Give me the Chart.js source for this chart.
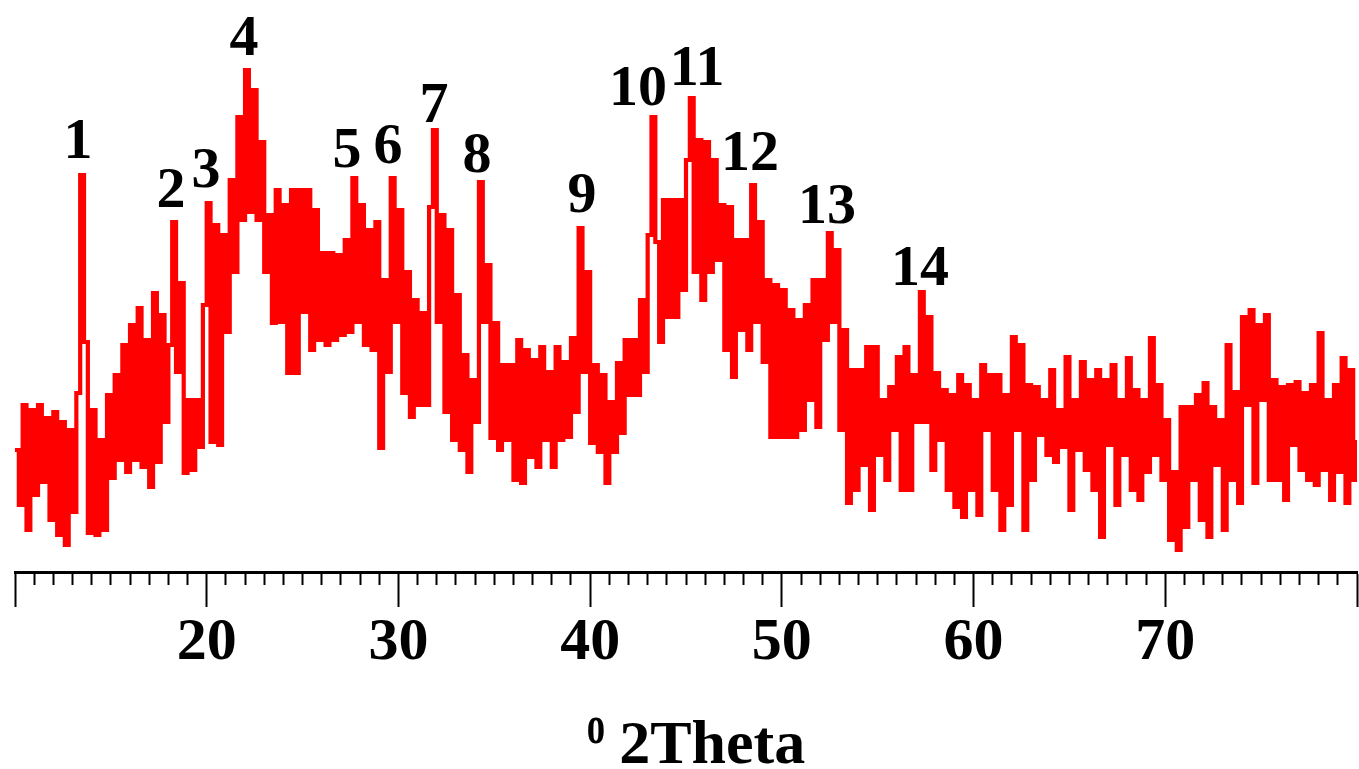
<!DOCTYPE html>
<html>
<head>
<meta charset="utf-8">
<script src="https://cdn.jsdelivr.net/npm/chart.js@4.4.1/dist/chart.umd.min.js"></script>
<style>
  html, body { margin: 0; padding: 0; background: #ffffff; }
  #wrap { width: 1359px; height: 769px; position: relative; }
</style>
</head>
<body>
<div id="wrap"><canvas id="c"></canvas></div>
<script>
// ---- data (intensity in arbitrary units) ----
const startAngle = 10;   // first 2theta value
const angleStep = 0.2;   // 2theta step of the scan

const seg10to20 = [122,67,167,42,162,77,167,90,154,52, 160,37,150,27,142,60,179,397,230,39,
  162,37,132,42,177,94,197,112,227,100, 247,112,264,105,232,85,279,110,257,150,
  227,350,200,289,99,172,102,172,125,267];
const seg20to30 = [369,130,347,127,337,240,392,300,455,352, 502,360,482,352,430,300,357,249,382,250,
  367,199,382,199,382,260,382,222,362,232, 319,227,319,232,317,237,332,240,394,250,
  367,227,342,222,350,124,292,200,394,250];
const seg30to40 = [362,179,300,155,272,167,259,167,365,442, 250,357,160,342,132,277,122,217,100,192,
  150,390,250,307,134,249,122,207,132,207, 92,232,89,222,115,212,105,225,132,200,
  105,225,132,210,135,234,160,344,200,300];
const seg40to50 = [129,207,120,197,89,170,120,209,139,232, 177,232,177,272,200,337,455,330,230,372,
  255,372,255,372,282,412,474,300,432,272, 430,300,412,312,367,222,365,195,332,242,
  332,222,387,250,350,210,292,135,287,135];
const seg50to60 = [282,135,262,135,252,142,267,172,292,145, 292,232,339,250,322,142,242,69,202,82,
  202,107,225,62,225,117,172,92,185,142, 215,82,225,82,197,150,280,150,255,102,
  199,132,182,82,177,65,197,55,187,82];
const seg60to70 = [172,57,207,142,197,82,197,42,177,67, 235,142,227,42,187,92,185,137,172,117,
  202,110,162,125,215,62,172,122,210,102, 192,82,202,35,192,127,207,67,172,117,
  214,82,182,72,172,100,234,117,187,92];
const seg70to80 = [152,32,100,22,165,45,165,92,177,52, 189,35,165,107,152,42,227,92,180,69,
  255,167,262,89,247,172,257,92,192,92, 185,72,187,127,190,102,179,92,187,87,
  239,102,172,72,187,100,214,69,202,92,132];

const peakNumbers = ['1','2','3','4','5','6','7','8','9','10','11','12','13','14'];
const peakAngles = [13.29,18.14,19.96,21.95,27.32,29.46,31.86,34.10,39.58,42.50,45.58,48.34,52.36,57.21];
const peakLabelLevels = [414,365,385,517,405,409,450,400,360,467,487,402,349,287];

const axisMin = 10, axisMax = 80;
const majorTickLabels = ['', '20', '30', '40', '50', '60', '70', ''];
const axisTitleSup = 'o';
const axisTitleMain = '2Theta';

// ---- build the dataset ----
const intensities = [].concat(seg10to20, seg20to30, seg30to40, seg40to50, seg50to60, seg60to70, seg70to80);
const points = intensities.map((v, i) => ({ x: +(startAngle + i * angleStep).toFixed(2), y: v }));

const SERIF = '"Liberation Serif", "Times New Roman", serif';

const peakLabelPlugin = {
  id: 'peakLabels',
  afterDatasetsDraw(chart) {
    const { ctx, scales: { x, y } } = chart;
    ctx.save();
    ctx.font = 'bold 58px ' + SERIF;
    ctx.fillStyle = '#000000';
    ctx.textAlign = 'center';
    ctx.textBaseline = 'alphabetic';
    peakNumbers.forEach((t, i) => {
      ctx.fillText(t, x.getPixelForValue(peakAngles[i]), y.getPixelForValue(peakLabelLevels[i]));
    });
    ctx.restore();
  }
};

const axisTitlePlugin = {
  id: 'axisTitle',
  afterDraw(chart) {
    const { ctx, chartArea } = chart;
    ctx.save();
    ctx.fillStyle = '#000000';
    ctx.textBaseline = 'alphabetic';
    ctx.textAlign = 'left';
    const supFont = 'bold 54px ' + SERIF;
    const supSqueeze = 0.68;
    const mainFont = 'bold 62px ' + SERIF;
    ctx.font = supFont;
    const wSup = ctx.measureText(axisTitleSup).width * supSqueeze;
    ctx.font = mainFont;
    const wMain = ctx.measureText(axisTitleMain).width;
    const gap = 14;
    const total = wSup + gap + wMain;
    const cx = (chartArea.left + chartArea.right) / 2 + 10;
    const left = cx - total / 2;
    const baseY = chart.height - 6;
    ctx.save();
    ctx.translate(left, baseY - 20);
    ctx.scale(supSqueeze, 1);
    ctx.font = supFont;
    ctx.fillText(axisTitleSup, 0, 0);
    ctx.restore();
    ctx.font = mainFont;
    ctx.fillText(axisTitleMain, left + wSup + gap, baseY);
    ctx.restore();
  }
};

new Chart(document.getElementById('c'), {
  type: 'line',
  data: {
    datasets: [{
      data: points,
      borderColor: '#ff0000',
      borderWidth: 4.2,
      pointRadius: 0,
      stepped: true,
      tension: 0,
      fill: false
    }]
  },
  options: {
    responsive: true,
    maintainAspectRatio: false,
    animation: false,
    events: [],
    layout: { padding: { left: 15, right: 2, top: 0, bottom: 90 } },
    plugins: { legend: { display: false }, tooltip: { enabled: false }, title: { display: false } },
    scales: {
      x: {
        type: 'linear',
        position: 'bottom',
        min: axisMin, max: axisMax,
        border: { display: true, color: '#000000', width: 3 },
        grid: { drawOnChartArea: false, drawTicks: true, tickLength: 13, tickWidth: 2, tickColor: '#000000' },
        ticks: { stepSize: 1, display: false, autoSkip: false }
      },
      x2: {
        type: 'linear',
        position: 'bottom',
        min: axisMin, max: axisMax,
        border: { display: false },
        grid: { drawOnChartArea: false, drawTicks: true, tickLength: 22, tickWidth: 2, tickColor: '#000000' },
        ticks: {
          stepSize: 10, autoSkip: false, maxRotation: 0, padding: 0,
          color: '#000000',
          font: { family: SERIF, size: 60, weight: 'bold' },
          callback: (v) => majorTickLabels[Math.round((v - axisMin) / 10)] ?? ''
        }
      },
      y: { display: false, min: 0, max: 572 }
    }
  },
  plugins: [peakLabelPlugin, axisTitlePlugin]
});
</script>
</body>
</html>
